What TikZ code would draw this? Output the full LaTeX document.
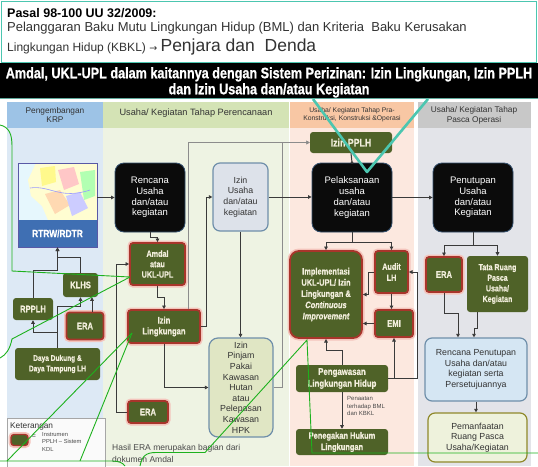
\documentclass[tikz,border=0pt]{standalone}
\usepackage{fontspec}
\setmainfont{Liberation Sans}
\newfontfamily\cnd{Liberation Sans}[FakeStretch=0.8,FakeBold=0.6]
\newfontfamily\ttl{Liberation Sans}[FakeStretch=0.826,FakeBold=0.8]
\newfontfamily\djv{DejaVu Sans}
\usetikzlibrary{arrows.meta,calc}

\definecolor{olv}{HTML}{4F6228}
\definecolor{cream}{HTML}{F2EEDC}
\definecolor{rdb}{HTML}{A8352B}
\definecolor{halo}{HTML}{F4C4BC}
\definecolor{blkfill}{HTML}{0B0B0B}
\definecolor{blkedge}{HTML}{34506E}
\definecolor{cline}{HTML}{3A3A3A}
\definecolor{paleline}{HTML}{8C8C8C}
\definecolor{annog}{HTML}{1DB11D}
\definecolor{tealc}{HTML}{4CC6B0}
\definecolor{hA}{HTML}{9DC3E6}\definecolor{bA}{HTML}{DDE9F5}
\definecolor{hB}{HTML}{D4E3B5}\definecolor{bB}{HTML}{EEF3E3}
\definecolor{hC}{HTML}{F8C7A4}\definecolor{bC}{HTML}{FCE8DF}
\definecolor{hD}{HTML}{C8C8C8}\definecolor{bD}{HTML}{E3E4E9}
\definecolor{hdrtxt}{HTML}{333333}
\definecolor{bodytxt}{HTML}{4A4A4A}
\definecolor{rtrwblue}{HTML}{3F6FB3}
\definecolor{usahafill}{HTML}{DDE2EA}
\definecolor{pinjamfill}{HTML}{E0E6C4}
\definecolor{renpenfill}{HTML}{D5E6F3}
\definecolor{manfaatfill}{HTML}{EEF2DC}
\definecolor{liteedge}{HTML}{6F8FAA}

\tikzset{
  con/.style={draw=cline, line width=1pt, -{Triangle[length=3.6pt,width=3.6pt]}},
  paleconn/.style={draw=paleline, line width=0.8pt, -{Triangle[length=3.4pt,width=3.4pt]}},
  gf/.style 2 args={font=\cnd\bfseries\fontsize{#1}{#2}\selectfont},
  gbox/.style={fill=olv, rounded corners=3pt, text=cream, align=center, inner sep=0pt},
  rbox/.style={gbox, draw=rdb, line width=1.8pt, preaction={draw=halo, line width=5pt}},
  blkbox/.style={fill=blkfill, draw=blkedge, line width=0.8pt, rounded corners=9pt, text=white,
    align=center, inner sep=0pt, font=\fontsize{9.5}{10.8}\selectfont},
  litebox/.style={line width=1.2pt, rounded corners=7pt, text=hdrtxt, align=center, inner sep=0pt,
    font=\fontsize{8.8}{10.6}\selectfont},
  colhdr/.style={inner sep=0pt, align=center, text=hdrtxt},
  ann/.style={draw=annog, line width=0.9pt},
  tealline/.style={draw=tealc, line width=2.6pt, line join=round}
}

\begin{document}
\begin{tikzpicture}[x=1pt,y=-1pt]
\useasboundingbox (0,0) rectangle (538,466);
\fill[white] (0,0) rectangle (538,466);

% ---- header panel ----
\draw[tealc, line width=1.5pt, fill=white] (1.5,1.5) rectangle (536.5,63);
\node[anchor=base west, inner sep=0pt, font=\bfseries\fontsize{12.5}{15}\selectfont] (pasal) at (7,17) {Pasal 98-100 UU 32/2009:};
\node[anchor=base west, inner sep=0pt, font=\fontsize{13}{15}\selectfont, text=hdrtxt] (pasal2) at (7,31.5)
  {Pelanggaran Baku Mutu Lingkungan Hidup (BML) dan Kriteria\ \ Baku Kerusakan};
\node[anchor=base west, inner sep=0pt, font=\fontsize{12}{15}\selectfont, text=hdrtxt] (pasal3) at (7,51)
  {Lingkungan Hidup (KBKL) {\djv\fontsize{9.5}{12}\selectfont →} {\fontsize{17.5}{21}\selectfont Penjara dan\ \ Denda}};

% ---- title bar ----
\fill[black] (0,63) rectangle (538,98);
\draw[tealc!60!gray, line width=1.2pt] (0,98.6) -- (538,98.6);
\node[anchor=base, inner sep=0pt, text=white, font=\ttl\bfseries\fontsize{15.3}{16}\selectfont] (title1) at (269,78.3)
  {Amdal, UKL-UPL dalam kaitannya dengan Sistem Perizinan: Izin Lingkungan, Izin PPLH};
\node[anchor=base, inner sep=0pt, text=white, font=\ttl\bfseries\fontsize{15.3}{16}\selectfont] (title2) at (269,94.3)
  {dan Izin Usaha dan/atau Kegiatan};

% ---- column backgrounds ----
\fill[hA] (7,102) rectangle (103,128);   \fill[bA] (7,128) rectangle (103,466);
\fill[hB] (103,102) rectangle (288.5,128); \fill[bB] (103,128) rectangle (288.5,466);
\fill[hC] (290,102) rectangle (414,128); \fill[bC] (290,128) rectangle (414,466);
\fill[hD] (418,102) rectangle (531,128); \fill[bD] (418,128) rectangle (531,466);

\node[colhdr, font=\fontsize{8.3}{9.6}\selectfont] (hdrA) at (55,115) {Pengembangan\\KRP};
\node[colhdr, font=\fontsize{9.2}{10}\selectfont] (hdrB) at (196,113) {Usaha/ Kegiatan Tahap Perencanaan};
\node[colhdr, font=\fontsize{6.8}{8.4}\selectfont] (hdrC) at (352,115) {Usaha/ Kegiatan Tahap Pra-\\Konstruksi, Konstruksi \&Operasi};
\node[colhdr, font=\fontsize{8.3}{9.8}\selectfont] (hdrD) at (474,115) {Usaha/ Kegiatan Tahap\\Pasca Operasi};

% ---- RTRW/RDTR map tile ----
\fill[cyan!10!white] (18,163) rectangle (97,220);
\fill[yellow!18!white] (36,163) -- (97,163) -- (97,220) -- (48,220) -- (42,206) -- (31,196) -- (28,180) -- cycle;
\fill[red!22!white] (58,170) -- (74,167) -- (79,184) -- (64,190) -- cycle;
\fill[green!30!white] (80,172) -- (95,170) -- (95,196) -- (84,200) -- cycle;
\fill[orange!30!white] (45,194) -- (60,190) -- (70,205) -- (55,214) -- cycle;
\fill[blue!20!white] (66,196) -- (80,192) -- (88,208) -- (72,216) -- cycle;
\fill[yellow!45!white] (40,168) -- (55,166) -- (56,182) -- (42,186) -- cycle;
\draw[blue!40!white, line width=0.6pt] (30,188) .. controls (50,185) and (60,200) .. (90,190);
\fill[rtrwblue] (18,220) rectangle (97,247);
\node[draw=gray!70!blue, line width=0.8pt, minimum width=79pt, minimum height=84pt, inner sep=0pt] (rtrw) at (57.5,205) {};
\node[gf={10.5}{12}, text=white, inner sep=0pt] (rtrwlbl) at (57.5,233.5) {RTRW/RDTR};

% ---- column 1 nodes ----
\node[gbox, gf={9.5}{11}, minimum width=35pt, minimum height=24pt] (klhs) at (80.5,285) {KLHS};
\node[gbox, gf={9.5}{11}, minimum width=40pt, minimum height=22pt] (rpplh) at (33,309) {RPPLH};
\node[rbox, gf={9.5}{11}, minimum width=37pt, minimum height=27pt] (eraL) at (85,326) {ERA};
\node[gbox, gf={8.2}{10.5}, minimum width=85pt, minimum height=32pt] (daya) at (57.5,364) {Daya Dukung \&\\Daya Tampung LH};

% ---- column 2 nodes ----
\node[blkbox, minimum width=70pt, minimum height=69pt] (rencana) at (150,197.5) {Rencana\\Usaha\\dan/atau\\kegiatan};
\node[rbox, gf={9}{10.4}, minimum width=55pt, minimum height=42pt] (amdal) at (157.5,264) {Amdal\\atau\\UKL-UPL};
\node[rbox, gf={9.5}{10.8}, minimum width=72pt, minimum height=33pt] (izinling) at (164,326.5) {Izin\\Lingkungan};
\node[rbox, gf={9.5}{11}, minimum width=40pt, minimum height=22pt] (eraM) at (148,412) {ERA};
\node[litebox, fill=usahafill, draw=liteedge, minimum width=55pt, minimum height=68pt] (izinusaha) at (240.5,197) {Izin\\Usaha\\dan/atau\\kegiatan};
\node[litebox, fill=pinjamfill, draw=liteedge, minimum width=64pt, minimum height=99pt, rounded corners=9pt] (izinpinjam) at (241,387.5)
  {Izin\\Pinjam\\Pakai\\Kawasan\\Hutan\\atau\\Pelepasan\\Kawasan\\HPK};

% ---- column 3 nodes ----
\node[gbox, gf={11}{12}, minimum width=82pt, minimum height=21pt] (izinpplh) at (351,142.5) {Izin PPLH};
\node[blkbox, minimum width=80pt, minimum height=69pt] (pelaksanaan) at (352,197.5) {Pelaksanaan\\usaha\\dan/atau\\kegiatan};
\node[rbox, gf={9.3}{11.2}, minimum width=72pt, minimum height=87pt, rounded corners=9pt] (implementasi) at (326,294.5)
  {Implementasi\\UKL-UPL/ Izin\\Lingkungan \&\\\itshape Continuous\\\itshape Improvement};
\node[rbox, gf={9}{11}, minimum width=33pt, minimum height=42pt] (audit) at (391.5,272) {Audit\\LH};
\node[rbox, gf={9.5}{11}, minimum width=38pt, minimum height=27pt] (emi) at (394,323.5) {EMI};
\node[gbox, gf={9.8}{11.8}, minimum width=92pt, minimum height=27pt] (pengawasan) at (342,378.5) {Pengawasan\\Lingkungan Hidup};
\node[gbox, gf={9.3}{11.3}, minimum width=92pt, minimum height=26pt] (penegakan) at (342,442) {Penegakan Hukum\\Lingkungan};
\node[anchor=north west, inner sep=0pt, align=left, text=bodytxt, font=\fontsize{6}{7.2}\selectfont] (penaatan) at (347,396.5)
  {Penaatan\\terhadap BML\\dan KBKL};

% ---- column 4 nodes ----
\node[blkbox, minimum width=80pt, minimum height=69pt] (penutupan) at (473,197.5) {Penutupan\\Usaha\\dan/atau\\Kegiatan};
\node[rbox, gf={9.5}{11}, minimum width=36pt, minimum height=35pt] (eraR) at (444,274.5) {ERA};
\node[gbox, gf={8.8}{10.6}, minimum width=61pt, minimum height=56pt] (tata) at (497.5,284) {Tata Ruang\\Pasca\\Usaha/\\Kegiatan};
\node[litebox, fill=renpenfill, draw=liteedge, minimum width=102pt, minimum height=63pt] (renpen) at (476,369.5)
  {Rencana Penutupan\\Usaha dan/atau\\kegiatan serta\\Persetujuannya};
\node[litebox, fill=manfaatfill, draw=olive!70!gray, minimum width=99pt, minimum height=49pt] (pemanfaatan) at (477.5,437.5)
  {Pemanfaatan\\Ruang Pasca\\Usaha/Kegiatan};

% ---- legend and caption ----
\draw[fill=gray!4!white, draw=gray!70, line width=0.8pt] (7,418) rectangle (105,470);
\node[anchor=west, inner sep=0pt, text=hdrtxt, font=\fontsize{8.3}{9}\selectfont] (keterangan) at (10,426) {Keterangan};
\node[rbox, minimum width=17pt, minimum height=11pt, line width=1.4pt] (swatch) at (19.5,440) {};
\node[inner sep=0pt, text=bodytxt, font=\fontsize{7}{8}\selectfont] (eq) at (34,437) {=};
\node[anchor=north west, inner sep=0pt, align=left, text=bodytxt, font=\fontsize{5.8}{7.6}\selectfont] (legtext) at (42,432)
  {Instrumen\\PPLH -- Sistem\\KDL};
\node[anchor=west, inner sep=0pt, text=bodytxt, font=\fontsize{8.5}{9}\selectfont] (capt1) at (112,448) {Hasil ERA merupakan bagian dari};
\node[anchor=west, inner sep=0pt, text=bodytxt, font=\fontsize{8.5}{9}\selectfont] (capt2) at (112,459.5) {dokumen Amdal};

% ---- connectors: planning ----
\draw[con] (rtrw.east |- rencana.west) -- (rencana.west);
\draw[con] (rencana.south) -- ++(0,5) -| (amdal.north);
\draw[con] (amdal.south) -- ++(0,12) -| (izinling.north);
\draw[con] (rpplh.north) -- ++(0,-27) -| (rtrw.south);
\draw[con] (klhs.north) -- ++(0,-15) -| (rtrw.south);
\draw[con] (daya.north) -- ++(0,-41) -| (klhs.south);
\draw[con] (daya.north) ++(0,-15) -| (rpplh.south);
\draw[con] ($(eraL.north)+(7,0)$) -- ($(klhs.south)+(11.5,0)$);
\draw[con] (eraM.west) -- ++(-11,0) |- (amdal.west);
\draw[con] (izinling.south) |- (izinpinjam.west);
\draw[con] (izinling.east) -- ++(6,0) |- (izinusaha.west);
\draw[paleconn] ($(izinling.north)+(24,0)$) |- (izinpplh.west);
\draw[paleconn] (izinpinjam.east) -- ++(9,0) |- (izinpplh.west);
\draw[con] (izinusaha.south) -- (izinusaha.south |- izinpinjam.north);
\draw[con] (izinusaha.east) -- (izinusaha.east -| pelaksanaan.west);

% ---- connectors: construction and operation ----
\draw[cline, line width=1pt] (izinpplh.south) -- (pelaksanaan.north);
\fill[cline] (pelaksanaan.north) circle (1.4pt);
\draw[con] (pelaksanaan.south) -- ++(0,10) -| (implementasi.north);
\draw[con] (pelaksanaan.south) -- ++(0,10) -| (audit.north);
\draw[con] (pelaksanaan.east) -- (penutupan.west);
\draw[con] (audit.west) -- ++(-6,0) |- (implementasi.east);
\draw[con] (audit.south) -- (audit.south |- emi.north);
\draw[con] (emi.west) -- (emi.west -| implementasi.east);
\draw[con] (pengawasan.east) -| (emi.south);
\draw[con] (pengawasan.east) -- ++(29,0) |- (audit.east);
\draw[con] (pengawasan.north) -- ++(0,-14) -| (implementasi.south);
\draw[con] (pengawasan.south) -- (penegakan.north);

% ---- connectors: post-operation ----
\draw[con] (penutupan.south) -- ++(0,13) -| (eraR.north);
\draw[con] (penutupan.south) -- ++(0,13) -| (tata.north);
\draw[con] (eraR.south) -- ++(0,21) -| ($(renpen.north)+(-18,0)$);
\draw[con] ($(tata.south)+(-20,0)$) -- ++(0,16) -| ($(renpen.north)+(-2,0)$);
\draw[con] (renpen.south) -- (renpen.south |- pemanfaatan.north);

% ---- green call-out lines ----
\coordinate (gA) at (130,277);
\coordinate (gB) at (132,333);
\coordinate (gC) at (307,340);
\draw[ann] (0,125) .. controls (9,127) and (12,134) .. (12,146) -- (12,271) -- (gA);
\draw[ann] (gA) -- (12,339) .. controls (10,349) and (6,355) .. (0,358);
\draw[ann] (gB) -- (7,461);
\draw[ann] (gB) -- (80,461);
\draw[ann] (0,461) -- (112,461) .. controls (119,461) and (123,463) .. (125,466);
\draw[ann] (140,466) .. controls (142,456) and (146,452.5) .. (156,452.5) -- (205,452.5) -- (gC) -- (312,453) -- (538,453);

% ---- teal call-out lines ----
\draw[tealline] (313,99) -- (367,172) -- (428,99);
\end{tikzpicture}
\end{document}
